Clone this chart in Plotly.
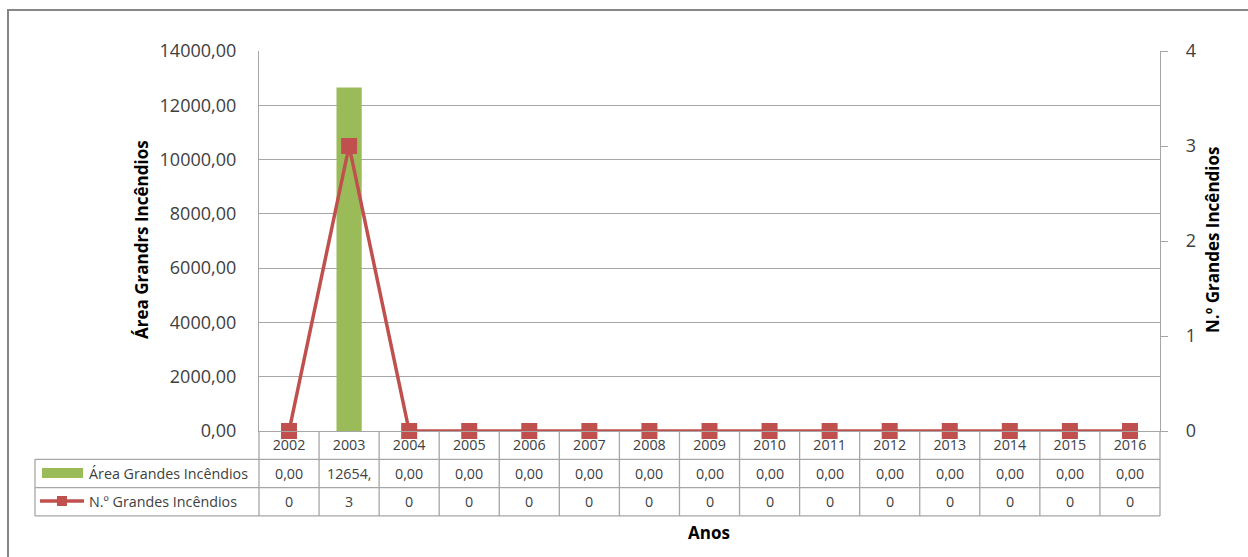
import plotly.graph_objects as go

# ---- data ----
anos = ["2002", "2003", "2004", "2005", "2006", "2007", "2008", "2009",
        "2010", "2011", "2012", "2013", "2014", "2015", "2016"]
area_grandes = [0.0, 12654.0, 0.0, 0.0, 0.0, 0.0, 0.0, 0.0,
                0.0, 0.0, 0.0, 0.0, 0.0, 0.0, 0.0]
num_grandes = [0, 3, 0, 0, 0, 0, 0, 0, 0, 0, 0, 0, 0, 0, 0]

serie_area = "Área Grandes Incêndios"
serie_num = "N.º Grandes Incêndios"

# ---- page geometry (pixels) ----
W, H = 1248, 557
PL, PR, PT, PB = 259, 1160, 51, 431      # plot area edges
ROW_H = 28.3                              # data-table row height
TABLE_LEFT = 35

GREEN = "#9bbb59"
RED = "#c0504d"
GRID = "#a6a6a6"
TXT = "#404040"
FONT = "Open Sans"
TABLE_SIZE = 14.3


def px(x):
    return (x - PL) / (PR - PL)


def py(y):
    return (PB - y) / (PB - PT)


def fmt_area(v):
    # two decimals with comma, clipped to the cell width like the spreadsheet
    s = f"{v:.2f}".replace(".", ",")
    return s[:6]


def label(x, y, text, size=13, color=TXT, xanchor="center", angle=0):
    return dict(xref="paper", yref="paper", x=px(x), y=py(y), text=text,
                showarrow=False, xanchor=xanchor, yanchor="middle",
                textangle=angle, font=dict(family=FONT, size=size, color=color))


fig = go.Figure()

fig.add_trace(go.Bar(
    x=anos, y=area_grandes, name=serie_area,
    marker=dict(color=GREEN, line=dict(width=0)),
    width=0.42, yaxis="y", showlegend=False,
))
fig.add_trace(go.Scatter(
    x=anos, y=num_grandes, name=serie_num, mode="lines+markers",
    line=dict(color=RED, width=3.5),
    marker=dict(symbol="square", size=16, color=RED),
    yaxis="y2", cliponaxis=False, showlegend=False,
))

n = len(anos)
shapes = []
annotations = []

# outer chart frame
shapes.append(dict(type="rect", xref="paper", yref="paper",
                   x0=px(8), x1=px(1270), y0=py(10), y1=py(580),
                   line=dict(color="#868686", width=2), layer="below"))

# data table grid
r1 = PB + ROW_H
r2 = PB + 2 * ROW_H
r3 = PB + 3 * ROW_H
for yy in (r1, r2, r3):
    shapes.append(dict(type="line", xref="paper", yref="paper",
                       x0=px(TABLE_LEFT), x1=px(PR), y0=py(yy), y1=py(yy),
                       line=dict(color=GRID, width=1.3)))
shapes.append(dict(type="line", xref="paper", yref="paper",
                   x0=px(TABLE_LEFT), x1=px(TABLE_LEFT), y0=py(r1), y1=py(r3),
                   line=dict(color=GRID, width=1.3)))
for i in range(n + 1):
    xx = i / n
    shapes.append(dict(type="line", xref="paper", yref="paper",
                       x0=xx, x1=xx, y0=py(PB), y1=py(r3),
                       line=dict(color=GRID, width=1.3)))

# legend keys inside the table
shapes.append(dict(type="rect", xref="paper", yref="paper",
                   x0=px(42), x1=px(83), y0=py(478), y1=py(468),
                   fillcolor=GREEN, line=dict(width=0)))
shapes.append(dict(type="line", xref="paper", yref="paper",
                   x0=px(40), x1=px(84), y0=py(501), y1=py(501),
                   line=dict(color=RED, width=3.5)))
shapes.append(dict(type="rect", xref="paper", yref="paper",
                   x0=px(57), x1=px(67), y0=py(496), y1=py(506),
                   fillcolor=RED, line=dict(width=0)))

row2_y = (r1 + r2) / 2
row3_y = (r2 + r3) / 2
annotations.append(label(87, row2_y, serie_area, size=TABLE_SIZE, xanchor="left"))
annotations.append(label(87, row3_y, serie_num, size=TABLE_SIZE, xanchor="left"))

for i in range(n):
    cx = PL + (i + 0.5) * (PR - PL) / n
    annotations.append(label(cx, row2_y, fmt_area(area_grandes[i]), size=TABLE_SIZE))
    annotations.append(label(cx, row3_y, str(num_grandes[i]), size=TABLE_SIZE))

# axis titles
annotations.append(label(141, 240, "<b>Área Grandrs Incêndios</b>", size=17,
                         color="#000000", angle=-90))
annotations.append(label(1212, 240, "<b>N.º Grandes Incêndios</b>", size=17,
                         color="#000000", angle=-90))
annotations.append(label(709, 532, "<b>Anos</b>", size=17, color="#000000"))

fig.update_layout(
    width=W, height=H,
    margin=dict(l=PL, r=W - PR, t=PT, b=H - PB, pad=0),
    paper_bgcolor="white", plot_bgcolor="white",
    separators=",.",
    font=dict(family=FONT, color=TXT),
    xaxis=dict(
        type="category", showgrid=False, zeroline=False,
        showline=True, linecolor=GRID, linewidth=1.3,
        ticks="", tickfont=dict(family=FONT, size=TABLE_SIZE, color=TXT),
        ticklabelstandoff=1,
        range=[-0.5, n - 0.5],
    ),
    yaxis=dict(
        range=[0, 14000], dtick=2000, tickformat=".2f",
        showgrid=True, gridcolor=GRID, gridwidth=1.3,
        zeroline=False, showline=True, linecolor=GRID, linewidth=1.3,
        ticks="", tickfont=dict(family=FONT, size=18, color=TXT),
        ticklabelstandoff=18,
    ),
    yaxis2=dict(
        range=[0, 4], dtick=1, overlaying="y", side="right",
        showgrid=False, zeroline=False,
        showline=True, linecolor=GRID, linewidth=1.3,
        ticks="outside", ticklen=7, tickcolor=GRID, tickwidth=1.3,
        tickfont=dict(family=FONT, size=18, color=TXT),
        ticklabelstandoff=14,
    ),
    shapes=shapes,
    annotations=annotations,
)

fig.write_html("out.html")
